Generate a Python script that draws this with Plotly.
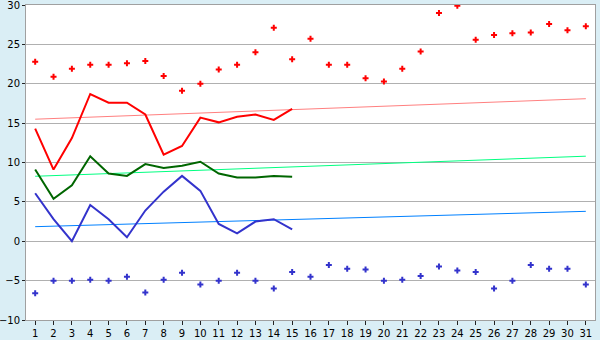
import plotly.graph_objects as go

days = list(range(1, 32))
days15 = list(range(1, 16))

tmax = [14.3, 9.1, 13.1, 18.7, 17.6, 17.6, 16.1, 11.0, 12.1, 15.7, 15.1, 15.8, 16.1, 15.4, 16.8]
tavg = [9.1, 5.4, 7.1, 10.8, 8.6, 8.3, 9.8, 9.3, 9.6, 10.1, 8.6, 8.1, 8.1, 8.3, 8.2]
tmin = [6.1, 2.8, 0.0, 4.6, 2.8, 0.5, 3.9, 6.3, 8.3, 6.4, 2.2, 1.0, 2.5, 2.8, 1.5]

rec_max = [22.8, 20.9, 21.9, 22.4, 22.4, 22.6, 22.9, 21.0, 19.1, 20.0,
           21.8, 22.4, 24.0, 27.1, 23.1, 25.7, 22.4, 22.4, 20.7, 20.3,
           21.9, 24.1, 29.0, 29.9, 25.6, 26.2, 26.4, 26.5, 27.6, 26.8, 27.3]
rec_min = [-6.6, -5.0, -5.0, -4.9, -5.0, -4.5, -6.5, -4.9, -4.0, -5.5,
           -5.0, -4.0, -5.0, -6.0, -3.9, -4.5, -3.0, -3.5, -3.6, -5.0,
           -4.9, -4.4, -3.2, -3.7, -3.9, -6.0, -5.0, -3.0, -3.5, -3.5, -5.5]

norm_days = [1, 31]
norm_max = [15.5, 18.1]
norm_avg = [8.25, 10.8]
norm_min = [1.85, 3.8]

y_ticks = [-10, -5, 0, 5, 10, 15, 20, 25, 30]

fig = go.Figure()

fig.add_trace(go.Scatter(x=norm_days, y=norm_max, mode="lines",
                         line=dict(color="#FF8080", width=1)))
fig.add_trace(go.Scatter(x=norm_days, y=norm_avg, mode="lines",
                         line=dict(color="#00FF80", width=1)))
fig.add_trace(go.Scatter(x=norm_days, y=norm_min, mode="lines",
                         line=dict(color="#0080FF", width=1)))

fig.add_trace(go.Scatter(x=days, y=rec_max, mode="markers",
                         marker=dict(symbol="cross", size=5, color="#FF0000", line=dict(width=0))))
fig.add_trace(go.Scatter(x=days, y=rec_min, mode="markers",
                         marker=dict(symbol="cross", size=5, color="#3333CC", line=dict(width=0))))

fig.add_trace(go.Scatter(x=days15, y=tmax, mode="lines",
                         line=dict(color="#FF0000", width=2)))
fig.add_trace(go.Scatter(x=days15, y=tavg, mode="lines",
                         line=dict(color="#006600", width=2)))
fig.add_trace(go.Scatter(x=days15, y=tmin, mode="lines",
                         line=dict(color="#3333CC", width=2)))

fig.update_layout(
    width=600, height=340,
    margin=dict(l=26, r=5, t=5, b=20),
    paper_bgcolor="#DAEEF5",
    plot_bgcolor="#FFFFFF",
    showlegend=False,
    font=dict(family="DejaVu Sans", size=10, color="#000000"),
)
fig.update_xaxes(
    range=[0.5, 31.5], tickmode="array", tickvals=days,
    ticktext=[str(d) for d in days],
    showgrid=False, zeroline=False, automargin=False,
    ticks="outside", ticklen=4, tickcolor="#222222",
    showline=True, linecolor="#A0A0A0", linewidth=1, mirror=True,
    ticklabeloverflow="allow",
)
fig.update_yaxes(
    range=[-10, 30], tickmode="array", tickvals=y_ticks,
    showgrid=True, gridcolor="#B0B0B0", gridwidth=1,
    zeroline=False, ticks="outside", ticklen=3, tickcolor="#222222",
    automargin=False,
    showline=True, linecolor="#A0A0A0", linewidth=1, mirror=True,
    ticklabeloverflow="allow",
)

fig.write_html("out.html")
